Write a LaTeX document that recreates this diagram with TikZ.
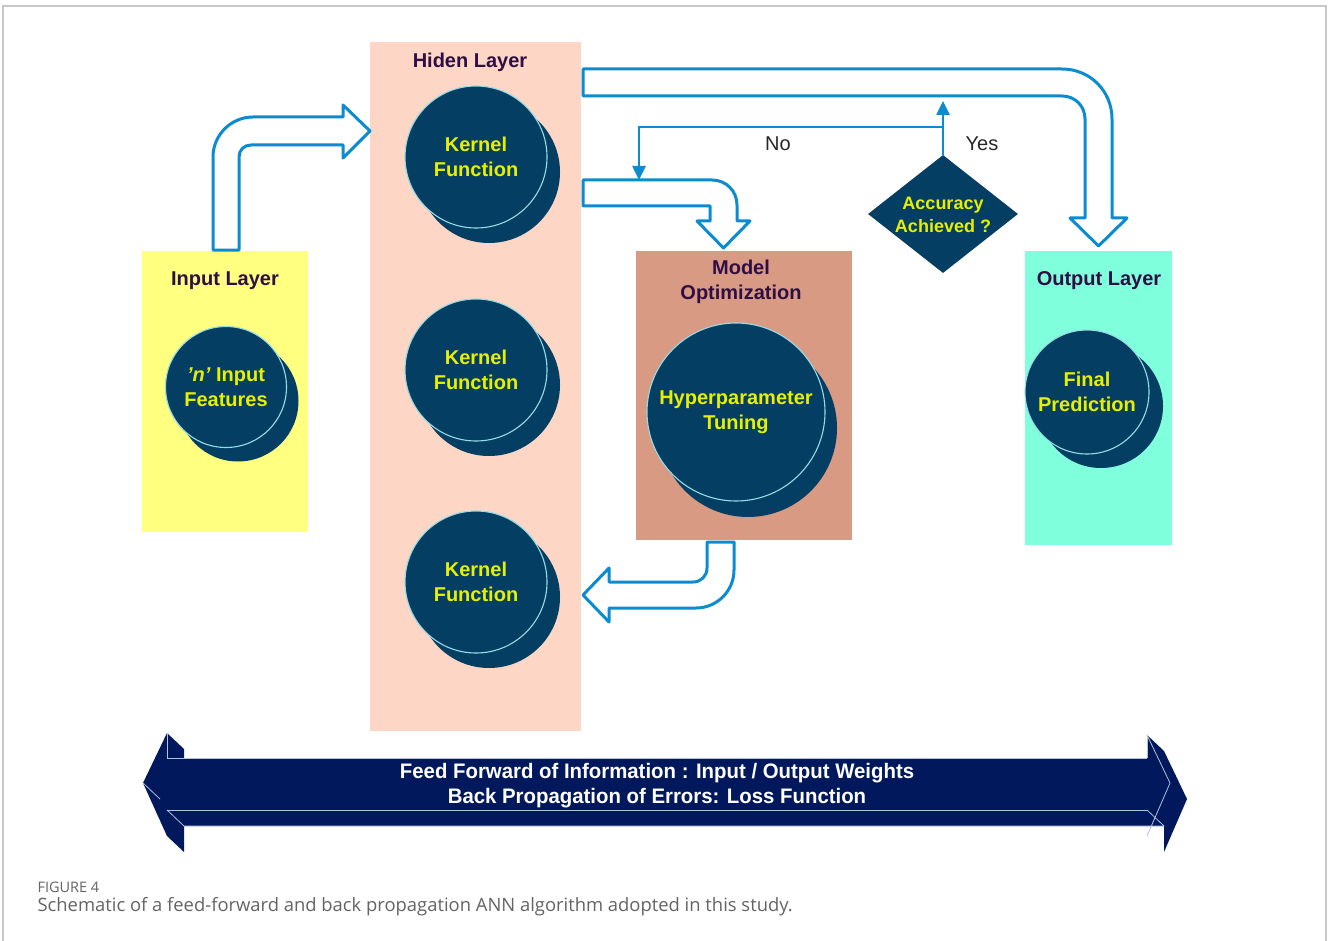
\documentclass[tikz,border=0pt]{standalone}
\usepackage{fontspec}
\setmainfont{Liberation Sans}
\newfontfamily\capfont{Open Sans}
\newfontfamily\bandfont[FakeStretch=0.97]{Liberation Sans}
\usetikzlibrary{shapes.geometric,arrows.meta}

\definecolor{ballblue}{RGB}{4,63,99}
\definecolor{balledge}{RGB}{150,220,230}
\definecolor{balltext}{RGB}{232,240,0}
\definecolor{inputfill}{RGB}{255,255,128}
\definecolor{hiddenfill}{RGB}{253,214,197}
\definecolor{modelfill}{RGB}{217,154,132}
\definecolor{outputfill}{RGB}{128,255,220}
\definecolor{titlecol}{RGB}{48,14,68}
\definecolor{flowblue}{RGB}{12,140,208}
\definecolor{bandnavy}{RGB}{1,24,92}
\definecolor{bandedge}{RGB}{175,195,220}
\definecolor{framegray}{RGB}{200,200,200}
\definecolor{capgray}{RGB}{100,100,100}

\tikzset{
  layerbox/.style={rectangle, draw=none, inner sep=0pt},
  title/.style={text=titlecol, font=\fontsize{20}{25}\selectfont\bfseries, align=center},
  ballback/.style={circle, fill=ballblue, inner sep=0pt},
  ballfront/.style={circle, fill=ballblue, draw=balledge, line width=1.1pt, inner sep=0pt,
    text=balltext, font=\fontsize{20}{25}\selectfont\bfseries, align=center},
  blockarrow/.style={draw=flowblue, fill=white, line width=3pt, line join=round},
  flow/.style={draw=flowblue, line width=2.6pt, -{Triangle[length=14pt,width=13pt]}},
  flowlabel/.style={font=\fontsize{20}{24}\selectfont, text=black!85},
  bandline/.style={draw=bandedge, line width=0.8pt},
}

\begin{document}
\begin{tikzpicture}[x=1pt,y=-1pt]
\useasboundingbox (0,0) rectangle (1329,941);
\fill[white] (0,0) rectangle (1329,941);

% page frame
\draw[framegray, line width=1.5pt] (3,941) -- (3,6) -- (1326,6) -- (1326,941);

% layer panels
\node[layerbox, fill=inputfill, minimum width=166pt, minimum height=281pt] (inL) at (225,391.5) {};
\node[layerbox, fill=hiddenfill, minimum width=211pt, minimum height=689pt] (hidL) at (475.5,386.5) {};
\node[layerbox, fill=modelfill, minimum width=216pt, minimum height=289pt] (modL) at (744,395.5) {};
\node[layerbox, fill=outputfill, minimum width=147pt, minimum height=294pt] (outL) at (1098.5,398) {};

% panel titles
\node[title] (inT) at (225,281) {Input Layer};
\node[title] (hidT) at (470,62) {Hiden Layer};
\node[title] (modT) at (741,281.5) {Model\\Optimization};
\node[title] (outT) at (1099,281) {Output Layer};

% input feature ball
\node[ballback, minimum size=121pt] (inB) at (238,401) {};
\node[ballfront, minimum size=121pt] (inF) at (226,387) {\textit{'n'} Input\\Features};

% kernel balls
\node[ballback, minimum size=142pt] (k1B) at (489,172) {};
\node[ballfront, minimum size=142pt] (k1) at (476,157) {Kernel\\Function};
\node[ballback, minimum size=142pt] (k2B) at (489,385) {};
\node[ballfront, minimum size=142pt] (k2) at (476,370) {Kernel\\Function};
\node[ballback, minimum size=142pt] (k3B) at (489,597) {};
\node[ballfront, minimum size=142pt] (k3) at (476,582) {Kernel\\Function};

% tuning ball
\node[ballback, minimum size=178pt] (hpB) at (748,428) {};
\node[ballfront, minimum size=178pt] (hp) at (736,412) {Hyperparameter\\Tuning};

% prediction ball
\node[ballback, minimum size=124pt] (fpB) at (1101,406) {};
\node[ballfront, minimum size=124pt] (fp) at (1087,392) {Final\\Prediction};

% decision diamond
\node[diamond, fill=ballblue, minimum width=150pt, minimum height=118pt, inner sep=0pt] (acc) at (943,214) {};
\node[text=balltext, font=\fontsize{18}{23}\selectfont\bfseries, align=center] (accT) at (943,214.5) {Accuracy\\Achieved ?};

% block arrows
\draw[blockarrow] (213,250) -- (213,157) .. controls (213,135) and (231,117) .. (253,117)
  -- (343,117) -- (343,105) -- (370,131) -- (343,158) -- (343,145) -- (251,145)
  .. controls (244,145) and (239,150) .. (239,157) -- (239,250) -- cycle;

\draw[blockarrow] (583,69) -- (1062,69) .. controls (1090,69) and (1112,91) .. (1112,119)
  -- (1112,218) -- (1127,218) -- (1098.5,246) -- (1070,218) -- (1085,218) -- (1085,119)
  .. controls (1085,106) and (1075,96) .. (1062,96) -- (583,96) -- cycle;

\draw[blockarrow] (583,180) -- (712,180) .. controls (726,180) and (737,191) .. (737,205)
  -- (737,221) -- (750,221) -- (723.5,248) -- (697,221) -- (710,221) -- (710,206) -- (583,206) -- cycle;

\draw[blockarrow] (707,542) -- (734,542) -- (734,570) .. controls (734,591) and (717,608) .. (696,608)
  -- (609,608) -- (609,622) -- (583,595) -- (609,568) -- (609,582) -- (693,582)
  .. controls (701,582) and (707,576) .. (707,568) -- cycle;

% decision branches
\coordinate (yesEnd) at (943,101);
\coordinate (split) at (943,127);
\coordinate (noCorner) at (639,127);
\coordinate (noEnd) at (639,180);
\draw[flow] (acc.north) -- (yesEnd);
\draw[flow] (split) -- (noCorner) -- (noEnd);
\node[flowlabel] (noL) at (778,144) {No};
\node[flowlabel] (yesL) at (982,144) {Yes};

% bottom double arrow band (extruded)
\fill[bandnavy] (143,783) -- (167,733) -- (184,749) -- (184,758) -- (1147,758) -- (1147,735)
  -- (1164,751) -- (1187,799) -- (1164,852) -- (1164,826) -- (184,826) -- (184,852)
  -- (167,836) -- cycle;
\draw[bandline] (167,733) -- (167,758) -- (1147,758);
\draw[bandline] (167,758) -- (184,758);
\draw[bandline] (167,810) -- (1147,810);
\draw[bandline] (167,810) -- (184,826) -- (1164,826);
\draw[bandline] (1147,735) -- (1147,758);
\draw[bandline] (1147,735) -- (1170,783) -- (1147,836);
\draw[bandline] (1147,810) -- (1164,826);
\draw[bandline] (143,783) -- (160,799);
\node[text=white, font=\bandfont\fontsize{21}{25}\selectfont\bfseries, align=center] (band) at (657,785.5)
  {Feed Forward of Information : Input / Output Weights\\Back Propagation of Errors: Loss Function};

% caption
\node[anchor=west, text=capgray, font=\capfont\fontsize{14.5}{16}\selectfont] (capA) at (34,887) {FIGURE 4};
\node[anchor=west, text=capgray, font=\capfont\fontsize{18.4}{20}\selectfont] (capB) at (34,907) {Schematic of a feed-forward and back propagation ANN algorithm adopted in this study.};
\end{tikzpicture}
\end{document}
